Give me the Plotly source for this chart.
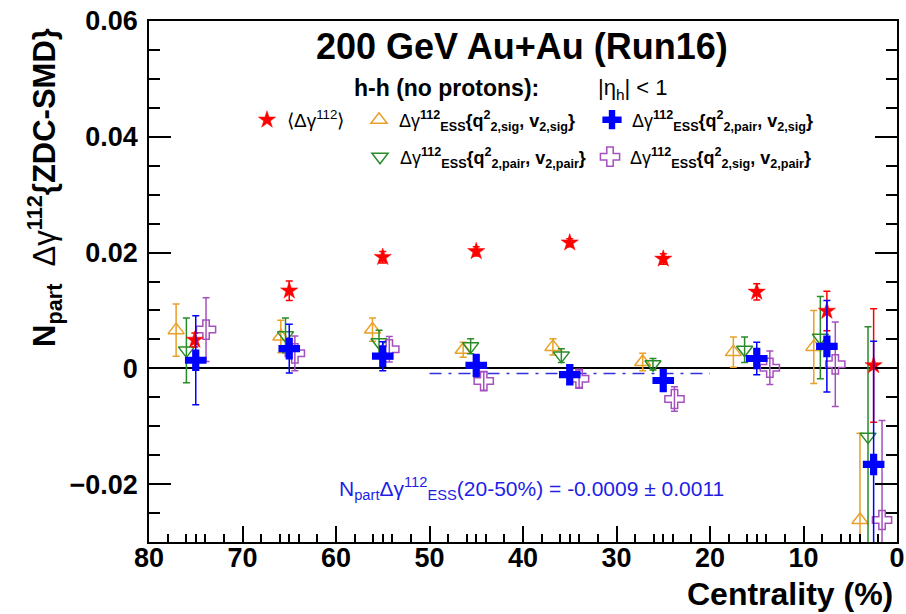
import plotly.graph_objects as go

# ---------------- data ----------------
cent_red = [75.1, 65.0, 55.0, 45.0, 35.0, 25.0, 15.0, 7.5, 2.5]
val_red = [0.0049, 0.0134, 0.0192, 0.0202, 0.0217, 0.0189, 0.0132, 0.0099, 0.0005]
err_red = [0.0012, 0.0017, 0.0010, 0.0008, 0.0007, 0.0009, 0.0014, 0.0034, 0.0098]

cent_orange = [77.1, 65.9, 56.1, 46.4, 36.8, 27.2, 17.5, 8.9, 3.96]
val_orange = [0.0066, 0.0055, 0.0067, 0.0032, 0.0037, 0.0011, 0.0028, 0.0037, -0.0262]
err_orange = [0.0045, 0.0028, 0.0020, 0.0013, 0.0014, 0.0015, 0.0026, 0.0063, 0.0150]

cent_green = [76.0, 65.4, 55.4, 45.6, 35.9, 26.1, 16.3, 8.2, 3.1]
val_green = [0.0031, 0.0057, 0.0045, 0.0038, 0.0022, 0.0007, 0.0032, 0.0053, -0.0118]
err_green = [0.0056, 0.0030, 0.0021, 0.0013, 0.0012, 0.0010, 0.0022, 0.0071, 0.0190]

cent_blue = [75.0, 65.0, 55.0, 45.0, 35.0, 25.0, 15.0, 7.5, 2.5]
val_blue = [0.0014, 0.0034, 0.0021, 0.0005, -0.0011, -0.0021, 0.0017, 0.0038, -0.0166]
err_blue = [0.0077, 0.0042, 0.0025, 0.0019, 0.0016, 0.0019, 0.0028, 0.0079, 0.0213]

cent_purple = [73.9, 64.4, 54.3, 44.2, 34.0, 23.8, 13.6, 6.6, 1.6]
val_purple = [0.0067, 0.0026, 0.0033, -0.0022, -0.0018, -0.0053, 0.0001, 0.0007, -0.0262]
err_purple = [0.0055, 0.0030, 0.0022, 0.0016, 0.0015, 0.0021, 0.0029, 0.0073, 0.0172]

fit_range = [50, 20]
fit_value = -0.0009
fit_error = 0.0011

y_tick_vals = [-0.02, 0, 0.02, 0.04, 0.06]
y_tick_text = ["\u22120.02", "0", "0.02", "0.04", "0.06"]
x_tick_vals = [0, 10, 20, 30, 40, 50, 60, 70, 80]
x_tick_text = ["0", "10", "20", "30", "40", "50", "60", "70", "80"]
x_minor_vals = [d + s for d in range(0, 80, 10) for s in (2, 4, 5, 6, 8)]

# ---------------- styling ----------------
FONT = "Liberation Sans"
RED = "rgb(255,0,0)"
ORANGE = "rgb(232,160,40)"
GREEN = "rgb(40,140,40)"
BLUE = "rgb(0,0,255)"
PURPLE = "rgb(165,80,190)"

W, H = 906, 614
PLOT_L, PLOT_R, PLOT_T, PLOT_B = 149, 897, 21, 542
L, R, T, B = PLOT_L, W - PLOT_R, PLOT_T, H - PLOT_B
PW = PLOT_R - PLOT_L
PH = PLOT_B - PLOT_T


def px_x(px):
    return (px - PLOT_L) / PW


def px_y(py):
    return (PLOT_B - py) / PH


ess = "\u0394\u03b3<sup><b>112</b></sup><sub><b>ESS</b></sub>"

fig = go.Figure()


def add_series(x, y, e, color, symbol, size, name, legend, lw=1.5):
    fig.add_trace(go.Scatter(
        x=x, y=y, mode="markers", name=name, legend=legend,
        marker=dict(symbol=symbol, size=size, color=color,
                    line=dict(color=color, width=lw)),
        error_y=dict(type="data", array=e, visible=True, color=color,
                     thickness=1.5, width=3.5),
        showlegend=True,
    ))


# fit line
fig.add_trace(go.Scatter(
    x=fit_range, y=[fit_value, fit_value], mode="lines",
    line=dict(color="rgb(50,50,220)", width=1.5, dash="12px,7px,3px,7px"),
    showlegend=False, hoverinfo="skip"))

add_series(cent_orange, val_orange, err_orange, ORANGE, "triangle-up-open", 14,
           ess + "<b>{q<sup>2</sup><sub>2,sig</sub>, v<sub>2,sig</sub>}</b>", "legend2")
add_series(cent_green, val_green, err_green, GREEN, "triangle-down-open", 14,
           ess + "<b>{q<sup>2</sup><sub>2,pair</sub>, v<sub>2,pair</sub>}</b>", "legend4")
add_series(cent_purple, val_purple, err_purple, PURPLE, "cross-open", 16,
           ess + "<b>{q<sup>2</sup><sub>2,sig</sub>, v<sub>2,pair</sub>}</b>", "legend5")
add_series(cent_red, val_red, err_red, RED, "star", 13,
           "\u27e8\u0394\u03b3<sup>112</sup>\u27e9", "legend", lw=0.5)
add_series(cent_blue, val_blue, err_blue, BLUE, "cross", 18,
           ess + "<b>{q<sup>2</sup><sub>2,pair</sub>, v<sub>2,sig</sub>}</b>", "legend3", lw=0)


def leg(px, py, size=18):
    return dict(x=px_x(px - 20), y=px_y(py), xanchor="left", yanchor="middle",
                bgcolor="rgba(0,0,0,0)", borderwidth=0,
                font=dict(family=FONT, size=size, color="black"),
                itemwidth=30, tracegroupgap=0)


fig.update_layout(
    width=W, height=H, autosize=False,
    margin=dict(l=L, r=R, t=T, b=B, pad=0, autoexpand=False),
    paper_bgcolor="white", plot_bgcolor="white",
    font=dict(family=FONT, color="black"),
    legend=leg(267, 120, 19),
    legend2=leg(379, 120),
    legend3=leg(612, 120),
    legend4=leg(380, 157),
    legend5=leg(610, 157),
    xaxis=dict(
        range=[80, 0], showgrid=False, zeroline=False, automargin=False,
        showline=True, linecolor="black", linewidth=1.5, mirror=True,
        ticks="inside", ticklen=16, tickwidth=1.5, tickcolor="black",
        tickmode="array", tickvals=x_tick_vals, ticktext=x_tick_text,
        tickfont=dict(family=FONT, size=27, weight="bold"),
        ticklabelstandoff=-9, ticklabeloverflow="allow",
        minor=dict(tickmode="array", tickvals=x_minor_vals, ticks="inside",
                   ticklen=8, tickwidth=1.5, tickcolor="black", showgrid=False),
    ),
    yaxis=dict(
        range=[-0.03, 0.06], showgrid=False, automargin=False,
        zeroline=True, zerolinecolor="black", zerolinewidth=1.5,
        showline=True, linecolor="black", linewidth=1.5, mirror="ticks",
        ticks="inside", ticklen=22, tickwidth=1.5, tickcolor="black",
        tickmode="array", tickvals=y_tick_vals, ticktext=y_tick_text,
        tickfont=dict(family=FONT, size=27, weight="bold"),
        ticklabelstandoff=4, ticklabeloverflow="allow",
        minor=dict(dtick=0.005, tick0=0, ticks="inside", ticklen=11,
                   tickwidth=1.5, tickcolor="black", showgrid=False),
    ),
)

ann = [
    dict(text="<b>200 GeV Au+Au (Run16)</b>", x=px_x(522), y=px_y(46),
         xanchor="center", yanchor="middle", font=dict(size=36)),
    dict(text="<b>h-h (no protons):</b>", x=px_x(352), y=px_y(88),
         xanchor="left", yanchor="middle", font=dict(size=23)),
    dict(text="|\u03b7<sub>h</sub>| < 1", x=px_x(670), y=px_y(89),
         xanchor="right", yanchor="middle", font=dict(size=22)),
    dict(text="N<sub>part</sub>\u0394\u03b3<sup>112</sup><sub>ESS</sub>(20-50%) = "
              f"{fit_value:.4f} \u00b1 {fit_error:.4f}",
         x=px_x(531), y=px_y(488), xanchor="center", yanchor="middle",
         font=dict(size=21, color="rgb(30,30,230)")),
    dict(text="<b>N<sub>part</sub></b>  \u0394\u03b3<sup><b>112</b></sup><b>{ZDC-SMD}</b>",
         x=px_x(44), y=px_y(188), xanchor="center", yanchor="middle",
         textangle=-90, font=dict(size=31)),
    dict(text="<b>Centrality (%)</b>", x=px_x(895), y=px_y(594),
         xanchor="right", yanchor="middle", font=dict(size=32)),
]
for a in ann:
    a.update(xref="paper", yref="paper", showarrow=False)
    a["font"].setdefault("family", FONT)
    a["font"].setdefault("color", "black")
fig.update_layout(annotations=ann)

fig.write_html(
    "out.html",
    config={"displayModeBar": False},
    post_script="document.body.style.margin='0';document.body.style.overflow='hidden';",
)
